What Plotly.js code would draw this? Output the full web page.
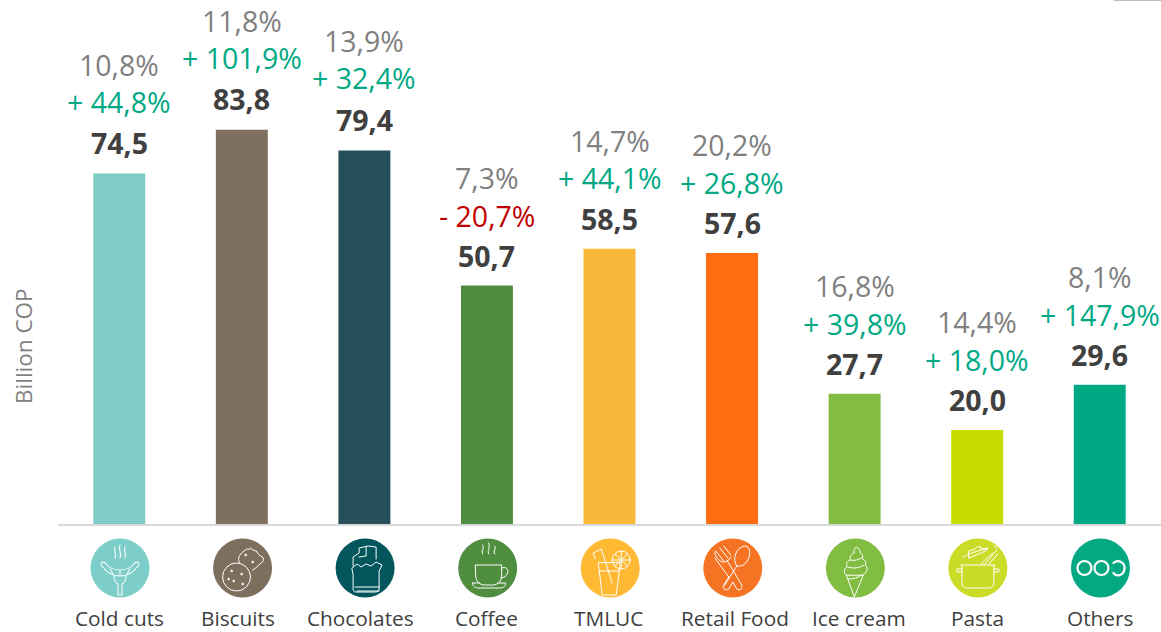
<!DOCTYPE html>
<html>
<head>
<meta charset="utf-8">
<script src="https://cdn.plot.ly/plotly-3.0.1.min.js"></script>
<style>html,body{margin:0;padding:0;background:#fff}</style>
</head>
<body>
<div id="chart" style="width:1161px;height:632px"></div>
<script>
const categories = ["Cold cuts","Biscuits","Chocolates","Coffee","TMLUC","Retail Food","Ice cream","Pasta","Others"];
const values = [74.5,83.8,79.4,50.7,58.5,57.6,27.7,20.0,29.6];
const growth = ["+ 44,8%","+ 101,9%","+ 32,4%","- 20,7%","+ 44,1%","+ 26,8%","+ 39,8%","+ 18,0%","+ 147,9%"];
const shares = ["10,8%","11,8%","13,9%","7,3%","14,7%","20,2%","16,8%","14,4%","8,1%"];
const barColors = ["#7FCCC7","#7F6F5F","#265059","#508D40","#F8B839","#FF6C11","#82BD41","#C7DD00","#00A984"];
const iconColors = ["#7DCEC8","#7E6E5E","#02565C","#4F8D3F","#FFB933","#F57423","#80BD41","#CBDC28","#04A883"];

// Hand-placement of the reference's labels, in pixels
const categoryNudge = [0,-4,-4,0,-1,3,4,0,0];
const valueLift = [1,1,1,0,0,0,0,0,0];
const growthLift = [2,2,3,0,1,0,0,0,0];
const shareLift = [1,1,2,0,0,0,0,0,0];

// Line-art pictograms (white strokes on the coloured disc), 60x60 view box
const iconArt = [
 // sausages on a fork
 '<path d="M25 9c-2 4 2 6 0 11M30 7c-2 5 2 7 0 13M35 9c-2 4 2 6 0 11"/><path d="M12 24c-2 2-1 4 1 5 4 6 10 9 17 9s13-3 17-9c2-1 3-3 1-5-2 0-4 1-5 3-3 3-7 5-13 5s-10-2-13-5c-1-2-3-3-5-3z"/><path d="M20 31l3 5M30 33v5M40 31l-3 5M24 38c0 5 2 7 4 8v11h4V46c2-1 4-3 4-8"/>',
 // cookies
 '<circle cx="24" cy="39" r="14"/><path d="M27 25c-2-3-1-7 2-10l5-4c2 1 3 0 4-1 2 2 4 3 6 3 1 3 3 5 6 6 2 3 0 6-3 7-2 3-5 5-7 6"/><circle cx="19" cy="33" r=".8" fill="#fff"/><circle cx="29" cy="36" r=".8" fill="#fff"/><circle cx="21" cy="43" r=".8" fill="#fff"/><circle cx="30" cy="46" r=".8" fill="#fff"/><circle cx="16" cy="41" r=".8" fill="#fff"/><circle cx="33" cy="17" r=".8" fill="#fff"/><circle cx="40" cy="24" r=".8" fill="#fff"/>',
 // chocolate bar
 '<path d="M18 28v-9l6-4v-5l9-2 8 1v12"/><path d="M31 9v9l-7 1"/><path d="M17 30l5-4 4 3 5-3 5 2 5-4 6 3-3 6v18c0 2-2 3-4 3H21c-2 0-3-1-3-3V37z"/><path d="M20 49h24M22 53h22"/>',
 // coffee cup
 '<path d="M25 16c-2-3 2-5 0-9M31 16c-2-3 2-6 0-11M37 16c-2-3 2-5 0-8"/><path d="M18 27h26v11c0 5-4 9-9 9h-8c-5 0-9-4-9-9z"/><path d="M44 30c5-2 7 2 6 5-1 3-4 5-7 5"/><path d="M15 45h7M40 45h8c0 4-3 5-6 5H21c-3 0-6-1-6-5"/>',
 // drink with citrus and straw
 '<path d="M18 25l4 32h14l4-32z"/><path d="M15 21l-2-6 8-4 11 34"/><circle cx="41" cy="22" r="9"/><path d="M41 13v18M32 22h18M35 16l12 12M47 16L35 28"/><path d="M19 33h20"/>',
 // fork and spoon
 '<path d="M12 20l14 19-5 8c-2 4 2 6 5 4l4-7 4 7c3 2 6 0 5-4L24 22"/><path d="M13 13l8 10M17 10l8 10M21 8l7 9"/><path d="M12 14c0 5 5 10 9 10s5-2 7-5"/><path d="M34 28c-5-6-1-19 8-20 6 0 6 9 3 14-2 4-6 7-11 6z"/><path d="M34 28L22 47"/>',
 // ice-cream cone
 '<path d="M21 37l8 22 9-22"/><path d="M21 37c-3-2-3-6 1-8-2-4 0-6 3-7-1-4 1-6 4-7-1-2 0-5 2-6 2 1 4 3 4 6 2 1 3 4 2 6 3 1 4 3 3 6 3 2 2 7-2 10z"/><path d="M23 29c5 2 11 1 16-2M25 22c4 1 8 0 11-2M23 41c5 0 9-1 13-4"/>',
 // pot with pasta
 '<path d="M13 27h34M14 27v18c0 3 2 5 5 5h22c3 0 5-2 5-5V27"/><path d="M14 31H9v3h5M46 31h5v3h-5"/><path d="M15 19c5-3 16-7 25-8M21 13l6-2c1-2 4-3 6-2l-1 2 8-1-2 3-17 7z"/><path d="M33 26l12-11M37 26l12-14M41 26l9-10M46 8l3 2"/>',
 // three rings
 '<circle cx="14" cy="30" r="7"/><circle cx="31" cy="30" r="7"/><path d="M43 25c4-4 12-1 11 6s-8 8-11 4"/>'
];

const iconImage = (color, art, width) => 'data:image/svg+xml;utf8,' + encodeURIComponent(
  '<svg xmlns="http://www.w3.org/2000/svg" width="60" height="60" viewBox="0 0 60 60">' +
  '<circle cx="30" cy="30" r="29.5" fill="' + color + '"/>' +
  '<g fill="none" stroke="#fff" stroke-width="' + width + '" stroke-linecap="round" stroke-linejoin="round">' + art + '</g></svg>');

const labelFont = "'Open Sans', 'Noto Sans', sans-serif";
const plotHeight = 524, plotWidth = 1103, iconY = 568, iconSize = 60, xSpan = 9;

const annotations = [];
categories.forEach((c, i) => {
  const base = {x: i, y: values[i], xref: 'x', yref: 'y', showarrow: false, yanchor: 'middle', xanchor: 'center'};
  annotations.push(Object.assign({}, base, {text: '<b>' + values[i].toFixed(1).replace('.', ',') + '</b>', yshift: 30 + valueLift[i], font: {family: labelFont, size: 28.5, color: '#404040'}}));
  annotations.push(Object.assign({}, base, {text: growth[i], yshift: 70 + growthLift[i], font: {family: labelFont, size: 28.5, color: growth[i][0] === '-' ? '#C00000' : '#00A984'}}));
  annotations.push(Object.assign({}, base, {text: shares[i], yshift: 108 + shareLift[i], font: {family: labelFont, size: 28.5, color: '#808080'}}));
  annotations.push({
    text: c, x: i, xref: 'x', xshift: categoryNudge[i], y: (plotHeight - 618) / plotHeight, yref: 'paper',
    showarrow: false, xanchor: 'center', yanchor: 'middle', font: {family: labelFont, size: 20.8, color: '#404040'}
  });
});
annotations.push({
  text: 'Billion COP', textangle: -90, showarrow: false, xref: 'paper', yref: 'paper',
  x: (24 - 58) / plotWidth, y: (plotHeight - 346) / plotHeight, xanchor: 'center', yanchor: 'middle',
  font: {family: labelFont, size: 22.5, color: '#808080'}
});

const images = categories.map((c, i) => ({
  source: iconImage(iconColors[i], iconArt[i], i === 8 ? 2.2 : 1),
  xref: 'x', yref: 'paper', x: i + 0.006, y: (plotHeight - iconY) / plotHeight,
  sizex: iconSize * xSpan / plotWidth, sizey: iconSize / plotHeight,
  xanchor: 'center', yanchor: 'middle', sizing: 'contain', layer: 'above'
}));

Plotly.newPlot('chart', [{
  type: 'bar', x: categories.map((c, i) => i), y: values, customdata: categories,
  marker: {color: barColors, line: {width: 0}},
  hovertemplate: '%{customdata}: %{y}<extra></extra>'
}], {
  width: 1161, height: 632,
  margin: {l: 58, r: 0, t: 0, b: 108, pad: 0},
  paper_bgcolor: '#fff', plot_bgcolor: '#fff',
  bargap: 0.576, showlegend: false,
  font: {family: labelFont},
  xaxis: {
    range: [-0.5, xSpan - 0.5], showgrid: false, zeroline: false, showline: true,
    linecolor: '#D9D9D9', linewidth: 2, ticks: '', showticklabels: false, automargin: false
  },
  yaxis: {
    range: [0, 111.4], showgrid: false, zeroline: false, showline: false, showticklabels: false, ticks: '',
    automargin: false
  },
  annotations, images,
  shapes: [{type: 'line', xref: 'paper', yref: 'paper', x0: 0.957, x1: 1, y0: 1, y1: 1, line: {color: '#BFBFBF', width: 2}}]
}, {displayModeBar: false, staticPlot: true});
</script>
</body>
</html>
